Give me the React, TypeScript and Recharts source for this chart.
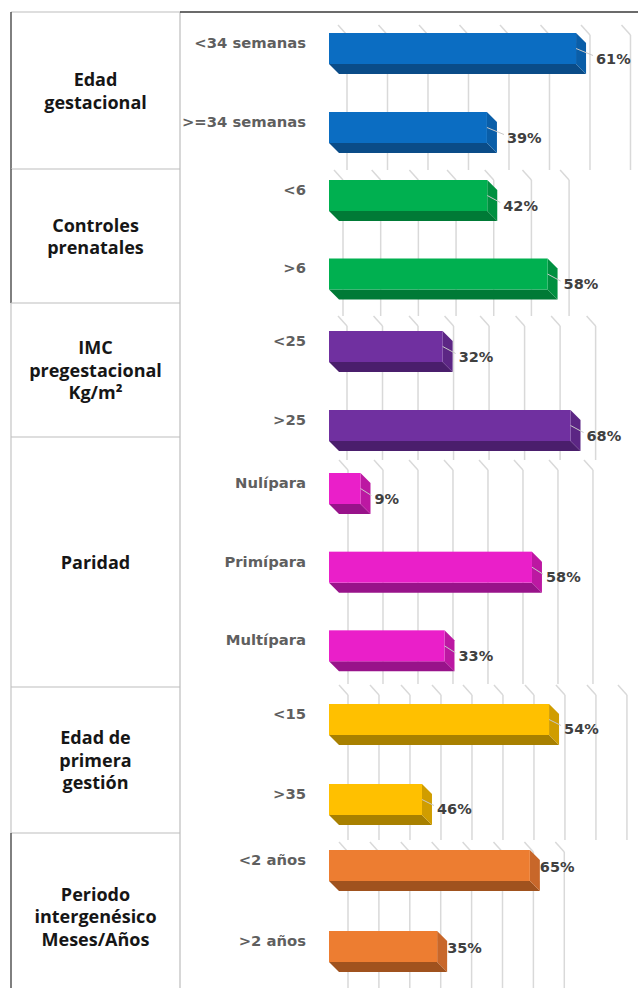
import { BarChart, Bar, XAxis, YAxis, CartesianGrid, LabelList } from 'recharts'

// group titles of the left-hand table
const groupLabels = [
  ['Edad', 'gestacional'],
  ['Controles', 'prenatales'],
  ['IMC', 'pregestacional', 'Kg/m²'],
  ['Paridad'],
  ['Edad de', 'primera', 'gestión'],
  ['Periodo', 'intergenésico', 'Meses/Años'],
]

const gestCats = ['<34 semanas', '>=34 semanas']
const gestValues = [61, 39]

const controlCats = ['<6', '>6']
const controlValues = [42, 58]

const imcCats = ['<25', '>25']
const imcValues = [32, 68]

const paridadCats = ['Nulípara', 'Primípara', 'Multípara']
const paridadValues = [9, 58, 33]

const primeraCats = ['<15', '>35']
const primeraValues = [54, 46]
// the bars in this panel are not drawn to their labels; lengths
const primeraBars = [71, 30]

const periodoCats = ['<2 años', '>2 años']
const periodoValues = [65, 35]

const rowEdges = [12, 169, 303, 437, 687, 833, 1000]
const darkLeftRows = [0, 1, 5]

const CHART_FONT = "'DejaVu Sans', sans-serif"
const DEPTH = 10

type Panel = {
  cats: string[]
  values: number[]
  bars: number[]
  front: string
  side: string
  bottom: string
  plot: [number, number]
  grid: [number, number]
  max: number
  shift: number
  lines: number
  dy: number
  gap: number
  leader: boolean
}

const panels: Panel[] = [
  { cats: gestCats, values: gestValues, bars: gestValues, front: '#0B6DC2', side: '#0A5EA8', bottom: '#0A4C88',
    plot: [9, 167], grid: [25, 170], max: 76.3, shift: 18, lines: 8, dy: 10, gap: 10, leader: true },
  { cats: controlCats, values: controlValues, bars: controlValues, front: '#00B050', side: '#009040', bottom: '#007A36',
    plot: [156, 313], grid: [170, 316], max: 82, shift: 14, lines: 7, dy: 10, gap: 6, leader: true },
  { cats: imcCats, values: imcValues, bars: imcValues, front: '#7030A0', side: '#5C2684', bottom: '#4A1E6C',
    plot: [307, 465], grid: [316, 460], max: 87, shift: 18, lines: 8, dy: 10, gap: 6, leader: true },
  { cats: paridadCats, values: paridadValues, bars: paridadValues, front: '#EA1FC9', side: '#BC18A2', bottom: '#98138A',
    plot: [449, 685], grid: [460, 684], max: 88.3, shift: 19, lines: 8, dy: 10, gap: 4, leader: true },
  { cats: primeraCats, values: primeraValues, bars: primeraBars, front: '#FFC000', side: '#D09D00', bottom: '#A88000',
    plot: [679, 839], grid: [685, 840], max: 99.7, shift: 19, lines: 10, dy: 9, gap: 5, leader: true },
  { cats: periodoCats, values: periodoValues, bars: periodoValues, front: '#ED7D31', side: '#C8672A', bottom: '#A0521E',
    plot: [825, 987], grid: [842, 990], max: 100, shift: 19, lines: 8, dy: 1, gap: 0, leader: false },
]

function Bar3D(props: any) {
  const { x, y, width, height, front, side, bottom } = props
  const d = DEPTH
  return (
    <g>
      <polygon
        points={`${x},${y + height} ${x + width},${y + height} ${x + width + d},${y + height + d} ${x + d},${y + height + d}`}
        fill={bottom}
      />
      <polygon
        points={`${x + width},${y} ${x + width + d},${y + d} ${x + width + d},${y + height + d} ${x + width},${y + height}`}
        fill={side}
      />
      <rect x={x} y={y} width={width} height={height} fill={front} />
    </g>
  )
}

function PanelChart({ p }: { p: Panel }) {
  const data = p.cats.map((name, i) => ({ name, bar: p.bars[i], pct: p.values[i] }))
  const top = Math.min(p.plot[0], p.grid[0]) - 4
  const bottomEdge = Math.max(p.plot[1], p.grid[1]) + 14
  const ticks = Array.from({ length: p.lines }, (_, i) => i * 10)
  const gTop = p.grid[0] - top
  const gBottom = p.grid[1] - top

  const gridLine = (gp: any) => {
    const gx = gp.x1 + p.shift
    return (
      <g key={`g-${gp.index}-${gp.x1}`}>
        <line x1={gx - 9} y1={gTop} x2={gx} y2={gTop + 10} stroke="#d9d9d9" strokeWidth={1.5} />
        <line x1={gx} y1={gTop + 10} x2={gx} y2={gBottom} stroke="#d9d9d9" strokeWidth={1.5} />
      </g>
    )
  }

  return (
    <div style={{ position: 'absolute', left: 180, top }}>
      <BarChart
        layout="vertical"
        width={458}
        height={bottomEdge - top}
        data={data}
        margin={{ top: p.plot[0] - top, bottom: bottomEdge - p.plot[1], left: 0, right: 0 }}
      >
        <CartesianGrid horizontal={false} vertical={gridLine} verticalValues={ticks} />
        <XAxis type="number" domain={[0, p.max]} ticks={ticks} hide />
        <YAxis
          type="category"
          dataKey="name"
          width={149}
          axisLine={false}
          tickLine={false}
          tick={(tp: any) => (
            <text x={126} y={tp.y - 6} textAnchor="end" dominantBaseline="central"
              fontFamily={CHART_FONT} fontWeight="bold" fontSize={14.8} fill="#5f5f5f">
              {tp.payload.value}
            </text>
          )}
        />
        <Bar
          dataKey="bar"
          barSize={31}
          isAnimationActive={false}
          shape={(sp: any) => <Bar3D {...sp} front={p.front} side={p.side} bottom={p.bottom} />}
        >
          <LabelList
            dataKey="pct"
            content={(lp: any) => {
              const cy = lp.y + lp.height / 2
              const lx = lp.x + lp.width + DEPTH + p.gap
              return (
                <g>
                  {p.leader && (
                    <line x1={lp.x + lp.width} y1={cy} x2={lx - 3} y2={cy + p.dy - 3} stroke="#c8c8c8" strokeWidth={1} />
                  )}
                  <text x={lx} y={cy + p.dy} dominantBaseline="central" fontFamily={CHART_FONT}
                    fontWeight="bold" fontSize={14.5} fill="#404040">
                    {`${lp.value}%`}
                  </text>
                </g>
              )
            }}
          />
        </Bar>
      </BarChart>
    </div>
  )
}

export default function App() {
  return (
    <div style={{ position: 'absolute', left: 0, top: 0, width: 638, height: 988, background: '#fff', overflow: 'hidden' }}>
      {groupLabels.map((lines, i) => (
        <div
          key={i}
          style={{
            position: 'absolute',
            left: 11,
            top: rowEdges[i],
            width: 169,
            height: rowEdges[i + 1] - rowEdges[i],
            display: 'flex',
            flexDirection: 'column',
            alignItems: 'center',
            justifyContent: 'center',
            fontFamily: "'Open Sans', sans-serif",
            fontWeight: 700,
            fontSize: 18,
            lineHeight: '22.5px',
            color: '#161616',
            textAlign: 'center',
          }}
        >
          {lines.map((l) => (
            <div key={l}>{l}</div>
          ))}
        </div>
      ))}
      <svg width={638} height={988} style={{ position: 'absolute', left: 0, top: 0 }}>
        {rowEdges.slice(0, -1).map((y, i) => (
          <g key={i}>
            <line x1={11} y1={y} x2={180} y2={y} stroke="#bdbdbd" strokeWidth={1.2} />
            <line x1={11} y1={y} x2={11} y2={rowEdges[i + 1]}
              stroke={darkLeftRows.includes(i) ? '#2a2a2a' : '#c4c4c4'} strokeWidth={1.2} />
          </g>
        ))}
        <line x1={180} y1={12} x2={180} y2={988} stroke="#bdbdbd" strokeWidth={1.2} />
        <line x1={180} y1={12} x2={638} y2={12} stroke="#3a3a3a" strokeWidth={1.4} />
      </svg>
      {panels.map((p, i) => (
        <PanelChart key={i} p={p} />
      ))}
    </div>
  )
}
